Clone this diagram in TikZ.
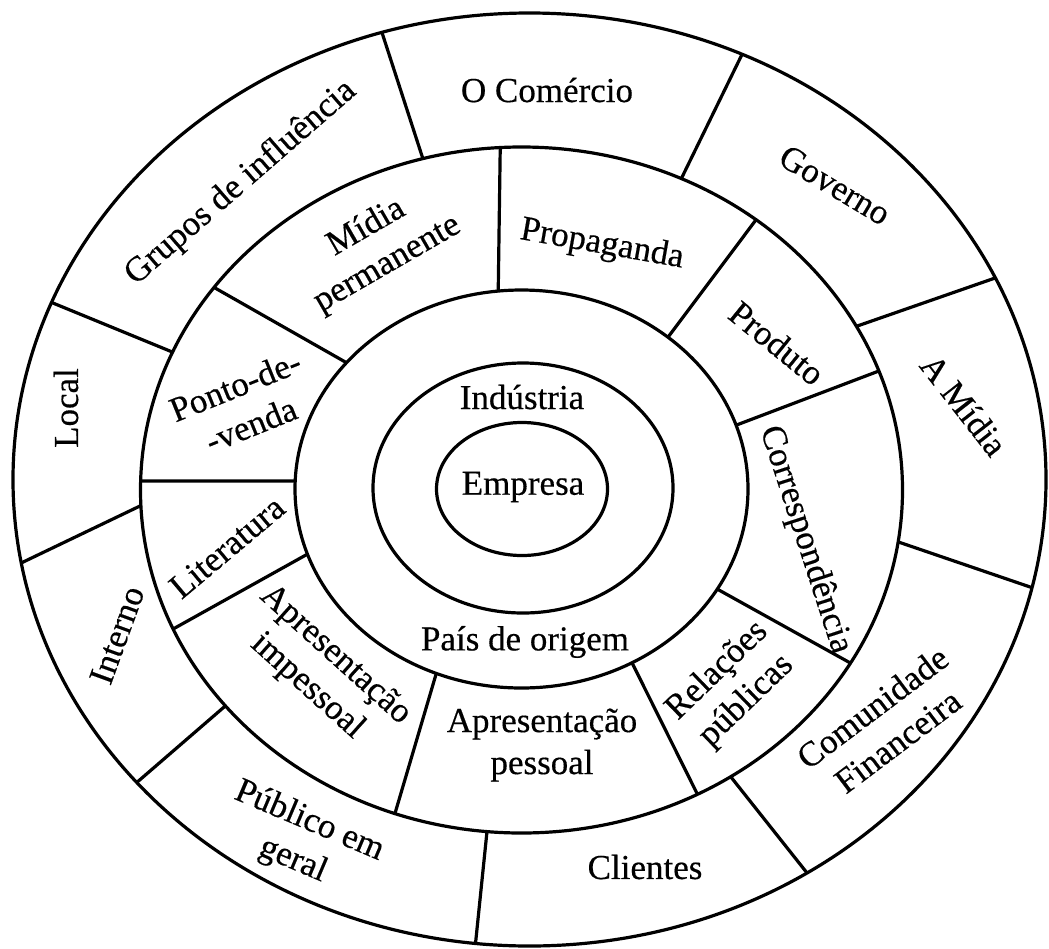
\documentclass[tikz,border=0pt]{standalone}
\usepackage{fontspec}
\setmainfont{Liberation Serif}
\newfontfamily\lblfont{Liberation Serif}[FakeBold=0.4]
\usetikzlibrary{calc}
\begin{document}
\begin{tikzpicture}[x=1pt,y=-1pt,
  ring/.style={line width=3.2pt},
  divider/.style={line width=3.2pt},
  lbl/.style={inner sep=0pt,align=center,font=\lblfont\fontsize{35}{42}\selectfont}]
\useasboundingbox (0,0) rectangle (1049,948);

% centres of the five rings
\coordinate (c1) at (529.5,479.5);
\coordinate (c2) at (521.5,490);
\coordinate (c3) at (521.5,489);
\coordinate (c4) at (523,488);
\coordinate (c5) at (522,489);

\draw[ring] (c1) ellipse [x radius=516.5pt, y radius=466.5pt];
\draw[ring] (c2) ellipse [x radius=381pt, y radius=343pt];
\draw[ring] (c3) ellipse [x radius=226.5pt, y radius=199pt];
\draw[ring] (c4) ellipse [x radius=150pt, y radius=125pt];
\draw[ring] (c5) ellipse [x radius=85.5pt, y radius=66.5pt];

% outer ring dividers
\foreach \ti/\to [count=\i] in {-105/-106.6, -65.2/-65.7, -28.5/-25.6, 8.7/13.4,
    56.7/57.5, 95.2/96, 141/139.5, 177.4/169.7, -156.3/-157.7} {
  \coordinate (oi\i) at ($(c2)+(\ti:381 and 343)$);
  \coordinate (oo\i) at ($(c1)+(\to:516.5 and 466.5)$);
  \draw[divider] (oi\i) -- (oo\i);
}

% middle ring dividers
\foreach \ti/\to [count=\i] in {-95.9/-93.2, -49.7/-52, -18.7/-20.3, 30.2/30.3,
    60.8/62.5, 112.1/109.4, 160.9/156.1, -177.7/-178.5, -140.6/-143.8} {
  \coordinate (mi\i) at ($(c3)+(\ti:226.5 and 199)$);
  \coordinate (mo\i) at ($(c2)+(\to:381 and 343)$);
  \draw[divider] (mi\i) -- (mo\i);
}

% outer ring labels
\node[lbl] (oc)   at (547,90)  {O Comércio};
\node[lbl,rotate=41]  (gi)   at (241,183) {Grupos de influência};
\node[lbl,rotate=-31] (gov)  at (835,185) {Governo};
\node[lbl,rotate=-52] (amid) at (964,405) {A Mídia};
\node[lbl,rotate=37]  (cf)   at (885,724) {Comunidade\\Financeira};
\node[lbl] (cli)  at (645,867) {Clientes};
\node[lbl,rotate=-23] (pg)   at (301,841) {Público em\\geral};
\node[lbl,rotate=70]  (int)  at (117,635) {Interno};
\node[lbl,rotate=90]  (loc)  at (66,408)  {Local};

% middle ring labels
\node[lbl,rotate=30]  (mp)   at (377,246) {Mídia\\permanente};
\node[lbl,rotate=-10] (prop) at (602,245) {Propaganda};
\node[lbl,rotate=-39] (prod) at (777,343) {Produto};
\node[lbl,rotate=-72] (corr) at (805,540) {Correspondência};
\node[lbl,rotate=44]  (rp)   at (732,686) {Relações\\públicas};
\node[lbl] (ap)   at (542,745) {Apresentação\\pessoal};
\node[lbl,rotate=-42] (ai)   at (321,671) {Apresentação\\impessoal};
\node[lbl,rotate=40]  (lit)  at (227,547) {Literatura};
\node[lbl,rotate=22]  (pv)   at (243,405) {Ponto-de-\\-venda};

% inner rings
\node[lbl] (ind)  at (522,397) {Indústria};
\node[lbl] (emp)  at (523,487) {Empresa};
\node[lbl] (pais) at (525,642) {País de origem};
\end{tikzpicture}
\end{document}
